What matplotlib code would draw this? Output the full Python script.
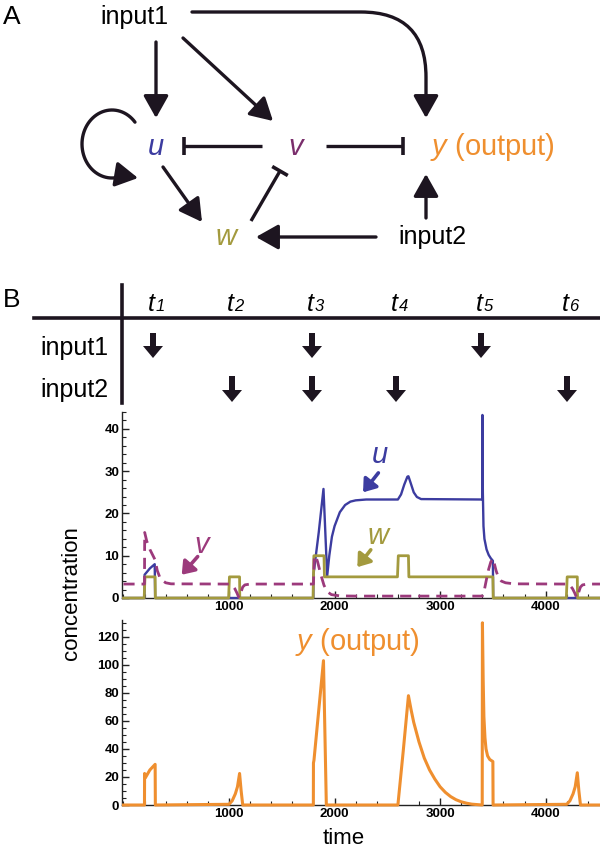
import numpy as np
import matplotlib
matplotlib.use('Agg')
import matplotlib.pyplot as plt
from matplotlib.patches import FancyArrow, FancyArrowPatch
from matplotlib.path import Path
from matplotlib.ticker import MultipleLocator

plt.rcParams['font.family'] = ['Liberation Sans', 'DejaVu Sans']
plt.rcParams['mathtext.fontset'] = 'custom'
plt.rcParams['mathtext.it'] = 'Liberation Sans:italic'
plt.rcParams['mathtext.rm'] = 'Liberation Sans'

# ---------------- data ----------------
# input schedule (table in panel B)
time_labels = ['1', '2', '3', '4', '5', '6']
input1_on = [1, 0, 1, 0, 1, 0]
input2_on = [0, 1, 1, 1, 0, 1]

# u (blue)
u_t = [0, 199, 200, 250, 296, 300, 1799, 1800, 1850, 1895, 1930, 1950, 1975, 2000, 2050,
       2100, 2150, 2200, 2300, 2600, 2630, 2660, 2690, 2700, 2720, 2750, 2780, 2820,
       3399, 3401, 3405, 3411, 3420, 3440, 3460, 3480, 3500, 3503, 4515]
u_v = [0, 0, 5.5, 7.0, 8.0, 0, 0, 5.5, 15.5, 25.8, 5.2, 10.0, 14.5, 17.0, 20.3,
       22.0, 22.8, 23.1, 23.3, 23.3, 24.5, 26.8, 28.7, 28.8, 27.3, 25.0, 23.9, 23.4,
       23.3, 43.3, 25.0, 17.0, 14.0, 11.5, 10.2, 9.4, 8.8, 0, 0]

# v (purple, dashed)
v_t = [0, 199, 201, 220, 250, 280, 300, 320, 350, 400, 450, 1000, 1030, 1055, 1075, 1090,
       1100, 1115, 1130, 1150, 1200, 1800, 1808, 1820, 1840, 1870, 1900, 1930, 1970, 2050,
       2200, 3400, 3420, 3440, 3460, 3480, 3500, 3510, 3530, 3550, 3580, 3620, 3700,
       4200, 4230, 4255, 4275, 4290, 4300, 4315, 4330, 4350, 4400, 4515]
v_v = [3.3, 3.3, 15.5, 13.5, 11.5, 10.0, 9.0, 6.5, 4.5, 3.6, 3.35, 3.3, 3.0, 2.2, 1.2, 0.3,
       0.1, 1.5, 2.6, 3.1, 3.3, 3.3, 9.8, 10.0, 8.5, 5.5, 3.0, 1.5, 0.8, 0.5,
       0.45, 0.45, 2.0, 4.5, 6.8, 8.5, 9.3, 8.5, 6.5, 5.0, 4.0, 3.6, 3.35,
       3.3, 3.0, 2.2, 1.2, 0.3, 0.1, 1.5, 2.6, 3.1, 3.3, 3.3]

# w (olive)
w_t = [0, 196, 204, 300, 302, 996, 1004, 1100, 1102, 1796, 1804, 1900, 1904, 2596, 2604,
       2700, 2704, 3500, 3503, 4196, 4204, 4300, 4302, 4515]
w_v = [0, 0, 5, 5, 0, 0, 5, 5, 0, 0, 10, 10, 5, 5, 10,
       10, 5, 5, 0, 0, 5, 5, 0, 0]

# y (orange, output)
y_t = [0, 199, 200, 208, 250, 300, 302, 1000, 1030, 1060, 1080, 1100, 1115, 1130,
       1799, 1800, 1805, 1895, 1922, 2600, 2650, 2700, 2725, 2750, 2800, 2850, 2900,
       2950, 3000, 3050, 3100, 3150, 3200, 3250, 3300, 3399, 3401, 3408, 3415, 3425,
       3435, 3450, 3470, 3500, 3502, 4200, 4230, 4260, 4280, 4300, 4315, 4330, 4515]
y_v = [0, 0, 22.5, 19.5, 25.0, 29.0, 0, 0.5, 3.0, 8.0, 13.0, 22.5, 10.0, 0,
       0, 30.0, 32.0, 103.0, 0, 0, 38.0, 78.0, 68.0, 59.0, 45.0, 33.5, 25.0,
       18.5, 13.0, 9.0, 6.0, 3.8, 2.3, 1.3, 0.6, 0, 130.0, 90.0, 63.0, 48.0,
       40.0, 35.0, 32.5, 31.0, 0, 0.5, 3.0, 8.0, 13.0, 23.0, 10.0, 0, 0]

top_yticks = [0, 10, 20, 30, 40]
bot_yticks = [0, 20, 40, 60, 80, 100, 120]
xticks = [1000, 2000, 3000, 4000]

# ---------------- styles ----------------
C_U = '#3c3ca0'
C_V = '#9c3a7c'
C_W = '#a39a3e'
C_Y = '#ef8f2f'
C_K = '#1d1520'
C_Vlab = '#7a2e6c'

W, H = 600, 849
fig = plt.figure(figsize=(W / 100, H / 100), dpi=100)

ax0 = fig.add_axes([0, 0, 1, 1])
ax0.set_xlim(0, W)
ax0.set_ylim(H, 0)
ax0.axis('off')


def rect(l, r, t, b):
    return [l / W, 1 - b / H, (r - l) / W, (b - t) / H]


# ---------------- panel A (network diagram) ----------------
FS_BIG = 18
FS_NODE = 21
ax0.text(3, 17, 'A', fontsize=19, ha='left', va='center')
ax0.text(134, 17, 'input1', fontsize=FS_BIG, ha='center', va='center')
ax0.text(432, 237, 'input2', fontsize=FS_BIG, ha='center', va='center')
ax0.text(156, 147, 'u', fontsize=FS_NODE, style='italic', color=C_U, ha='center', va='center')
ax0.text(296, 147, 'v', fontsize=FS_NODE, style='italic', color=C_Vlab, ha='center', va='center')
ax0.text(226, 237, 'w', fontsize=FS_NODE, style='italic', color=C_W, ha='center', va='center')
ax0.text(430, 147, r'$\mathit{y}$ (output)', fontsize=FS_NODE, color=C_Y, ha='left', va='center')

HEAD = '-|>,head_length=0.8,head_width=0.45'
ARW = dict(arrowstyle=HEAD, lw=2.4, color=C_K, shrinkA=0, shrinkB=0, mutation_scale=17)


def arrow(tail, tip):
    ax0.annotate('', xy=tip, xytext=tail, arrowprops=ARW)


def inhibit(tail, tip, half=9):
    ax0.plot([tail[0], tip[0]], [tail[1], tip[1]], color=C_K, lw=2.4, solid_capstyle='butt')
    dx, dy = tip[0] - tail[0], tip[1] - tail[1]
    n = np.hypot(dx, dy)
    px, py = -dy / n * half, dx / n * half
    ax0.plot([tip[0] - px, tip[0] + px], [tip[1] - py, tip[1] + py], color=C_K, lw=2.6,
             solid_capstyle='butt')


arrow((156, 42), (156, 118))
arrow((183, 38), (273, 121))
arrow((163, 167), (202, 222))
arrow((376, 237), (256, 237))
arrow((426, 218), (426, 174))
inhibit((262, 146), (184, 146))
inhibit((326, 146), (403, 146))
inhibit((251, 221), (280, 171))

curve = FancyArrowPatch((192, 12), (426, 118), connectionstyle='angle,angleA=0,angleB=90,rad=65',
                        arrowstyle=HEAD, lw=2.4, color=C_K,
                        shrinkA=0, shrinkB=0, mutation_scale=17)
ax0.add_patch(curve)

# self loop on u
th = np.radians(np.linspace(40, 292, 60))
cx, cy, rx, ry = 112, 144, 30, 34
verts = np.column_stack([cx + rx * np.cos(th), cy - ry * np.sin(th)])
verts = np.vstack([verts, [[138, 178]]])
loop = FancyArrowPatch(path=Path(verts), arrowstyle=HEAD,
                       lw=2.4, color=C_K, mutation_scale=17, shrinkA=0, shrinkB=0)
ax0.add_patch(loop)

# ---------------- panel B header table ----------------
ax0.text(3, 300, 'B', fontsize=19, ha='left', va='center')
ax0.plot([122, 122], [285, 403], color=C_K, lw=2.6)
ax0.plot([34, 600], [318, 318], color=C_K, lw=2.6)
col_x = [153, 232, 312, 396, 481, 567]
for cxp, lab, i1, i2 in zip(col_x, time_labels, input1_on, input2_on):
    ax0.text(cxp + 2, 311, 't', fontsize=18, style='italic', ha='right', va='baseline')
    ax0.text(cxp + 2.5, 311, lab, fontsize=12, style='italic', ha='left', va='baseline')
    if i1:
        ax0.add_patch(FancyArrow(cxp, 333, 0, 25, width=6, head_width=20, head_length=12,
                                 length_includes_head=True, color=C_K, lw=0))
    if i2:
        ax0.add_patch(FancyArrow(cxp, 376, 0, 26, width=6, head_width=20, head_length=12,
                                 length_includes_head=True, color=C_K, lw=0))
ax0.text(74, 348, 'input1', fontsize=FS_BIG, ha='center', va='center')
ax0.text(74, 390, 'input2', fontsize=FS_BIG, ha='center', va='center')

# ---------------- charts ----------------
XLIM = (-14, 4515)


def style_axes(ax, yticks, yminor):
    ax.set_xlim(*XLIM)
    for s in ['top', 'right']:
        ax.spines[s].set_visible(False)
    for s in ['left', 'bottom']:
        ax.spines[s].set_linewidth(1.0)
        ax.spines[s].set_color('#222222')
    ax.set_xticks(xticks)
    ax.set_xticklabels([str(v) for v in xticks], fontweight='bold')
    ax.set_yticks(yticks)
    ax.set_yticklabels([str(v) for v in yticks], fontweight='bold')
    ax.xaxis.set_minor_locator(MultipleLocator(200))
    ax.yaxis.set_minor_locator(MultipleLocator(yminor))
    ax.tick_params(which='major', direction='in', length=5, width=1, labelsize=9.5, pad=2,
                   colors='#222222', labelcolor='black')
    ax.tick_params(which='minor', direction='in', length=2.8, width=0.8, colors='#222222')
    ax.patch.set_alpha(0)


ax1 = fig.add_axes(rect(122, 600, 412, 598))
ax1.set_ylim(0, 44)
style_axes(ax1, top_yticks, 2)
ax1.plot(u_t, u_v, color=C_U, lw=1.7, clip_on=False, zorder=3)
ax1.plot(w_t, w_v, color=C_W, lw=2.0, clip_on=False, zorder=3.2)
ax1.plot(v_t, v_v, color=C_V, lw=2.0, ls=(0, (4, 2.5)), clip_on=False, zorder=3.4)

ax1.text(2431, 33.8, 'u', fontsize=FS_NODE, style='italic', color=C_U, ha='center', va='center')
ax1.text(739, 12.6, 'v', fontsize=FS_NODE, style='italic', color=C_V, ha='center', va='center')
ax1.text(2415, 14.6, 'w', fontsize=FS_NODE, style='italic', color=C_W, ha='center', va='center')
SARW = dict(arrowstyle='-|>,head_length=0.55,head_width=0.4', lw=2.6, shrinkA=0, shrinkB=0,
            mutation_scale=13)
ax1.annotate('', xy=(2270, 25.0), xytext=(2415, 29.6), arrowprops=dict(SARW, color=C_U))
ax1.annotate('', xy=(552, 5.5), xytext=(703, 9.8), arrowprops=dict(SARW, color=C_V))
ax1.annotate('', xy=(2216, 7.3), xytext=(2343, 11.4), arrowprops=dict(SARW, color=C_W))

ax2 = fig.add_axes(rect(122, 600, 620, 805))
ax2.set_ylim(0, 132)
style_axes(ax2, bot_yticks, 5)
ax2.plot(y_t, y_v, color=C_Y, lw=2.2, clip_on=False, zorder=3)
ax2.text(2213, 116, r'$\mathit{y}$ (output)', fontsize=FS_NODE, color=C_Y, ha='center', va='center')

fig.text(72 / W, 1 - 593 / H, 'concentration', fontsize=16, rotation=90, ha='center', va='center')
fig.text(344 / W, 1 - 838 / H, 'time', fontsize=16, ha='center', va='center')

fig.savefig('out.png', dpi=100)
